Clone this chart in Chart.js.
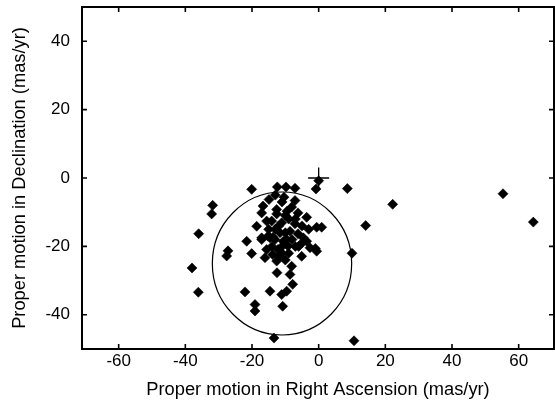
<!DOCTYPE html>
<html>
<head>
<meta charset="utf-8">
<script src="https://cdn.jsdelivr.net/npm/chart.js@4"></script>
<style>
  html, body { margin: 0; padding: 0; background: #fff; }
</style>
</head>
<body>
<canvas id="pmChart" width="555" height="406"></canvas>
<script>
// proper motions (mas/yr)
const raValues = [55.3, 64.4, 22.2, 14.1, 8.6, 10.6, -13.4, 10.0, -31.8, -32.1, -36.0, -38.0, -36.1, 0.0, -0.8,
    -20.1, -12.4, -9.8, -7.1, -27.2, -27.6, -22.1, -19.1, -19.1, -14.6, -11.1, -9.6, -7.8, -10.8, -8.6,
    -12.5, -8.1, -12.6, -16.1, -20.1, -21.6, -15.6, -17.1, -14.6, -13.8, -12.2, -9.2, -10.6, -13.1, -5.1,
    -2.6, -0.6, -3.6, -4.6, -9.6, -6.2, -8.6, -11.6, -13.7, -0.6, 0.9, -11.1, -7.1, -14.1, -15.6,
    -18.6, -17.1, -15.2, -12.6, -6.2, -3.6, -9.5, -8.1, -7.1, -10.4, -12.6, -14.9, -16.7, -17.1, -1.0,
    -11.0, -10.0, -7.0, -12.0, -9.0, -5.0, -13.0, -10.0, -8.0, -11.0, -14.0, -6.0, -9.0, -12.0, -7.0,
    -10.0, -15.0, -5.0, -3.0, -11.0, -13.0];
const decValues = [-4.6, -12.9, -7.7, -13.9, -3.1, -47.6, -46.8, -22.0, -8.0, -10.5, -16.3, -26.3, -33.4, -0.8, -3.2,
    -3.3, -2.6, -2.6, -3.0, -21.3, -22.8, -33.3, -37.0, -38.9, -33.1, -34.1, -33.1, -31.1, -37.5, -28.2,
    -27.7, -25.8, -24.3, -23.3, -22.1, -18.5, -20.9, -18.0, -17.5, -22.4, -20.9, -19.9, -18.5, -18.0, -22.9,
    -20.4, -21.4, -18.5, -17.5, -18.0, -16.3, -15.6, -16.0, -17.3, -14.4, -14.4, -13.1, -13.4, -12.6, -12.6,
    -14.1, -17.5, -17.0, -10.5, -10.2, -11.5, -9.7, -8.5, -6.6, -5.6, -9.2, -6.3, -8.2, -10.2, -20.6,
    -22.0, -24.0, -20.0, -14.0, -12.0, -14.0, -15.0, -16.0, -18.0, -20.0, -20.0, -20.0, -22.0, -23.0, -12.0,
    -11.0, -15.0, -19.0, -15.0, -7.0, -5.0];

// reference point with its error bar, and the selection circle
const refPoint = [0, 0];
const circleCenter = [-11, -25];
const circleRadius = 20.9;

const xTickValues = [-60, -40, -20, 0, 20, 40, 60];
const yTickValues = [-40, -20, 0, 20, 40];

const stars = raValues.map((x, i) => ({ x: x, y: decValues[i] }));

const FONT = "'Liberation Sans', Arial, Helvetica, sans-serif";

// no automatic label padding, the frame is placed by hand
function noPad(s) {
    s.paddingLeft = 0;
    s.paddingRight = 0;
    s.paddingTop = 0;
    s.paddingBottom = 0;
}

// gnuplot-like frame with inward ticks, plus the circle
const framePlugin = {
    id: 'frame',
    beforeDatasetsDraw(chart) {
        const { ctx, scales: { x, y } } = chart;
        const cx = x.getPixelForValue(circleCenter[0]);
        const cy = y.getPixelForValue(circleCenter[1]);
        const rx = Math.abs(x.getPixelForValue(circleCenter[0] + circleRadius) - cx);
        const ry = Math.abs(y.getPixelForValue(circleCenter[1] + circleRadius) - cy);
        ctx.save();
        ctx.strokeStyle = '#000';
        ctx.lineWidth = 1.2;
        ctx.beginPath();
        ctx.ellipse(cx, cy, rx, ry, 0, 0, Math.PI * 2);
        ctx.stroke();
        ctx.restore();
    },
    afterDatasetsDraw(chart) {
        const { ctx, chartArea: a, scales: { x, y } } = chart;
        const len = 5;
        ctx.save();
        ctx.strokeStyle = '#000';
        ctx.lineWidth = 2;
        ctx.strokeRect(a.left, a.top, a.right - a.left, a.bottom - a.top);
        ctx.lineWidth = 1.6;
        ctx.beginPath();
        xTickValues.forEach(v => {
            const px = x.getPixelForValue(v);
            ctx.moveTo(px, a.bottom); ctx.lineTo(px, a.bottom - len);
            ctx.moveTo(px, a.top); ctx.lineTo(px, a.top + len);
        });
        yTickValues.forEach(v => {
            const py = y.getPixelForValue(v);
            ctx.moveTo(a.left, py); ctx.lineTo(a.left + len, py);
            ctx.moveTo(a.right, py); ctx.lineTo(a.right - len, py);
        });
        ctx.stroke();
        ctx.restore();
    }
};

new Chart(document.getElementById('pmChart'), {
    type: 'scatter',
    data: {
        datasets: [{
            label: 'reference',
            data: [{ x: refPoint[0], y: refPoint[1] }],
            pointStyle: 'cross',
            pointRadius: 10.5,
            borderColor: '#000',
            borderWidth: 1.3,
            order: 2
        }, {
            label: 'stars',
            data: stars,
            pointStyle: 'rectRot',
            pointRadius: 5,
            backgroundColor: '#000',
            borderColor: '#000',
            borderWidth: 0.6,
            order: 1
        }]
    },
    options: {
        responsive: false,
        animation: false,
        events: [],
        layout: { autoPadding: false, padding: { top: 7, right: 1, left: 0, bottom: 0 } },
        plugins: {
            legend: { display: false },
            tooltip: { enabled: false }
        },
        scales: {
            x: {
                type: 'linear',
                min: -71,
                max: 70.6,
                afterBuildTicks: s => { s.ticks = xTickValues.map(v => ({ value: v })); },
                afterFit: s => { s.height = 57; noPad(s); },
                grid: { display: false, drawTicks: false },
                border: { display: false },
                ticks: { color: '#000', padding: 2, font: { family: FONT, size: 17 } },
                title: {
                    display: true,
                    text: 'Proper motion in Right Ascension (mas/yr)',
                    color: '#000',
                    padding: { top: 0, bottom: 5 },
                    font: { family: FONT, size: 18.3 }
                }
            },
            y: {
                type: 'linear',
                min: -50,
                max: 50,
                afterBuildTicks: s => { s.ticks = yTickValues.map(v => ({ value: v })); },
                afterFit: s => { s.width = 82; noPad(s); },
                grid: { display: false, drawTicks: false },
                border: { display: false },
                ticks: { color: '#000', padding: 12, font: { family: FONT, size: 17 } },
                title: {
                    display: true,
                    text: 'Proper motion in Declination (mas/yr)',
                    color: '#000',
                    padding: { top: 9, bottom: 0 },
                    font: { family: FONT, size: 18.3 }
                }
            }
        }
    },
    plugins: [framePlugin]
});
</script>
</body>
</html>
